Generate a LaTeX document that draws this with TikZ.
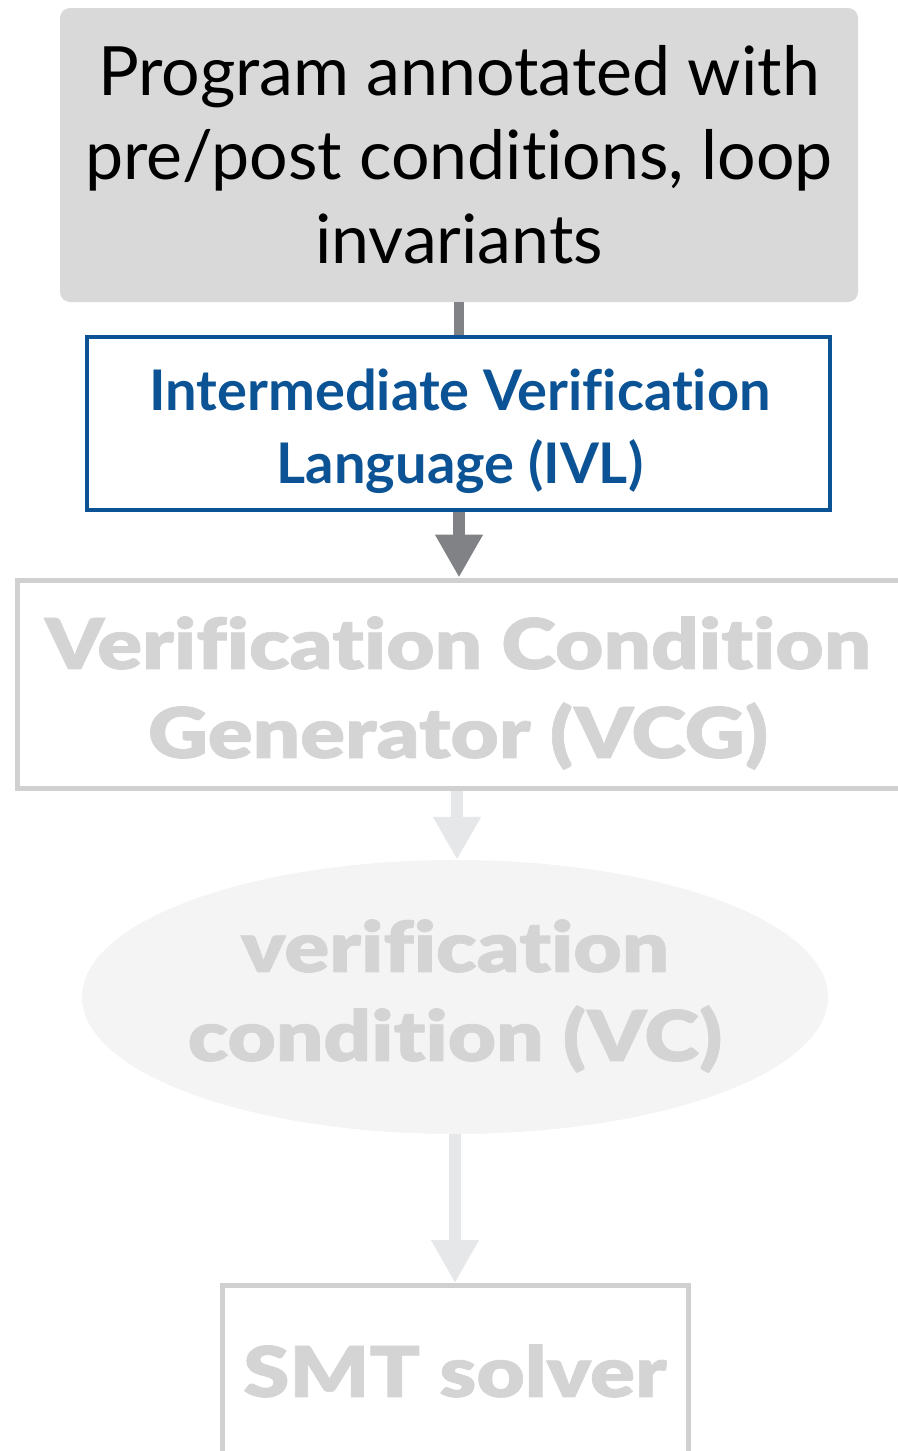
\documentclass[tikz,border=0pt]{standalone}
\usepackage{fontspec}
\setmainfont{Lato}[Ligatures=NoCommon]
\newfontfamily\heavyfont{Lato Black}[FakeStretch=1.19, FakeBold=1, Ligatures=NoCommon]
\usetikzlibrary{arrows.meta,shapes.geometric}

\definecolor{boxgrey}{HTML}{D9D9D9}
\definecolor{ivlblue}{HTML}{0B5394}
\definecolor{linkgrey}{HTML}{808285}
\definecolor{fadegrey}{HTML}{D0D0D0}
\definecolor{fadetext}{HTML}{D4D4D4}
\definecolor{fadearrow}{HTML}{E6E7E8}
\definecolor{fadefill}{HTML}{F4F4F4}

\tikzset{
  source/.style={fill=boxgrey, rounded corners=10pt, minimum width=798pt, minimum height=294pt,
    align=center, font=\fontsize{68}{84}\selectfont, text=black, inner sep=0pt},
  ivlbox/.style={draw=ivlblue, line width=4pt, fill=white, minimum width=743pt, minimum height=173pt,
    inner sep=0pt},
  ivltext/.style={align=center, font=\bfseries\fontsize{56}{73}\selectfont, text=ivlblue, inner sep=0pt},
  fadebox/.style={draw=fadegrey, line width=5pt, inner sep=0pt},
  fadetext/.style={align=center, font=\heavyfont\fontsize{70}{89}\selectfont, text=fadetext, inner sep=0pt},
  vcnode/.style={ellipse, fill=fadefill, minimum width=746pt, minimum height=274pt, inner sep=0pt},
  link/.style={line width=10pt, draw=linkgrey},
  flow/.style={line width=12pt, -{Triangle[length=43pt,width=45pt]}},
}

\begin{document}
\begin{tikzpicture}[x=1pt,y=-1pt]
  \useasboundingbox (0,0) rectangle (897,1451);

  % source program
  \node[source] (prog) at (459,155) {Program annotated with\\pre/post conditions, loop\\invariants};

  % intermediate language box
  \node[ivlbox] (ivl) at (458.5,423.5) {};
  \node[ivltext] (ivllabel) at (460,431) {Intermediate Verification\\Language (IVL)};

  % faded stages
  \node[fadebox, minimum width=900pt, minimum height=208pt] (vcg) at (467,684) {};
  \node[fadetext] (vcglabel) at (458,693) {Verification Condition\\Generator (VCG)};

  \node[vcnode] (vc) at (455,997) {};
  \node[fadetext] (vclabel) at (455,996) {verification\\condition (VC)};

  \node[fadebox, minimum width=466pt, minimum height=240pt, anchor=north] (smt) at (455,1283) {};
  \node[fadetext] (smtlabel) at (455,1371) {SMT solver};

  % connectors
  \draw[link] (prog.south -| 459,0) -- (ivl.north -| 459,0);
  \draw[flow, draw=linkgrey, fill=linkgrey] (ivl.south -| 459,0) -- (vcg.north -| 459,0);
  \draw[flow, draw=fadearrow, fill=fadearrow] (vcg.south -| 457,0) -- (vc.north -| 457,0);
  \draw[flow, draw=fadearrow, fill=fadearrow] (vc.south) -- (smt.north);
\end{tikzpicture}
\end{document}
